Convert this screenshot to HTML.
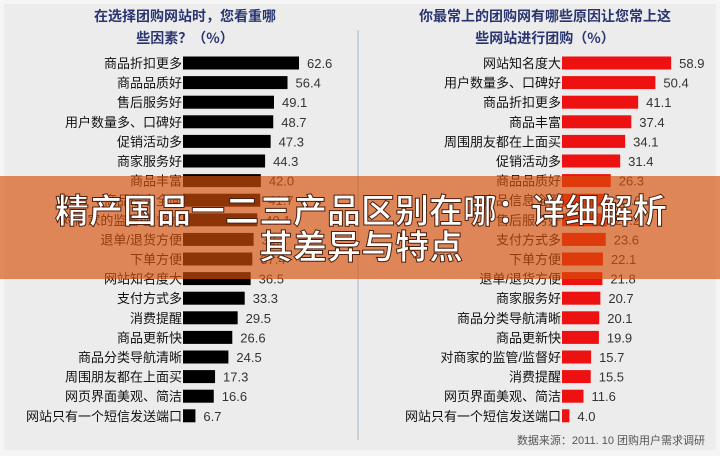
<!DOCTYPE html>
<html><head><meta charset="utf-8"><style>
html,body{margin:0;padding:0;}
body{width:720px;height:456px;overflow:hidden;background:#f4f4f4;font-family:"Liberation Sans","Noto Sans CJK SC",sans-serif;}
</style></head><body>
<svg width="720" height="456" xmlns="http://www.w3.org/2000/svg" style="position:absolute;left:0;top:0">
<rect x="0" y="0" width="720" height="456" fill="#f5f5f5"/>
<rect x="4" y="4" width="712" height="446" fill="#ececec"/>
<line x1="358" y1="30" x2="358" y2="440" stroke="#a8b8cc" stroke-width="1"/>
<g font-family="'Noto Sans CJK SC',sans-serif" font-weight="bold" font-size="14" fill="#2a3570" text-anchor="middle">
<text x="185" y="21">在选择团购网站时，您看重哪</text>
<text x="185" y="43">些因素？（%）</text>
<text x="545" y="21">你最常上的团购网有哪些原因让您常上这</text>
<text x="545" y="43">些网站进行团购（%）</text>
</g>
<g id="L" font-size="13" fill="#111"></g>
<g id="R" font-size="13" fill="#111"></g>
<text x="705" y="444" text-anchor="end" font-size="11" fill="#555" font-family="'Liberation Sans','Noto Sans CJK SC',sans-serif">数据来源：2011. 10 团购用户需求调研</text>
<rect x="0" y="176" width="720" height="103" fill="rgb(214,80,10)" fill-opacity="0.66"/>
<g font-family="'Noto Sans CJK SC',sans-serif" font-weight="bold" font-size="34" fill="#fff" text-anchor="middle" stroke="#4a2010" stroke-width="1">
<text x="361" y="223">精产国品一二三产品区别在哪：详细解析</text>
<text x="361" y="259">其差异与特点</text>
</g>
</svg>
<script>
var L=[["商品折扣更多",62.6],["商品品质好",56.4],["售后服务好",49.1],["用户数量多、口碑好",48.7],["促销活动多",47.3],["商家服务好",44.3],["商品丰富",42.0],["商品信息全面",41.7],["对商家的监管/监督好",40.1],["退单/退货方便",38.1],["下单方便",37.4],["网站知名度大",36.5],["支付方式多",33.3],["消费提醒",29.5],["商品更新快",26.6],["商品分类导航清晰",24.5],["周围朋友都在上面买",17.3],["网页界面美观、简洁",16.6],["网站只有一个短信发送端口",6.7]];
var R=[["网站知名度大",58.9],["用户数量多、口碑好",50.4],["商品折扣更多",41.1],["商品丰富",37.4],["周围朋友都在上面买",34.1],["促销活动多",31.4],["商品品质好",26.3],["商品信息全面",25.0],["售后服务好",24.2],["支付方式多",23.6],["下单方便",22.1],["退单/退货方便",21.8],["商家服务好",20.7],["商品分类导航清晰",20.1],["商品更新快",19.9],["对商家的监管/监督好",15.7],["消费提醒",15.5],["网页界面美观、简洁",11.6],["网站只有一个短信发送端口",4.0]];
var NS="http://www.w3.org/2000/svg";
function draw(id,data,x0,col){var g=document.getElementById(id);
data.forEach(function(d,i){var cy=63+i*19.6;var w=d[1]*1.853;
var r=document.createElementNS(NS,"rect");r.setAttribute("x",x0);r.setAttribute("y",cy-6.5);r.setAttribute("width",w);r.setAttribute("height",13);r.setAttribute("fill",col);g.appendChild(r);
var t=document.createElementNS(NS,"text");t.setAttribute("x",x0-1);t.setAttribute("y",cy+5);t.setAttribute("text-anchor","end");t.textContent=d[0];g.appendChild(t);
var v=document.createElementNS(NS,"text");v.setAttribute("x",x0+w+8);v.setAttribute("y",cy+5);v.setAttribute("fill","#333");v.textContent=d[1].toFixed(1);g.appendChild(v);});}
draw("L",L,183,"#000");draw("R",R,562,"#ee1111");
</script>
</body></html>
